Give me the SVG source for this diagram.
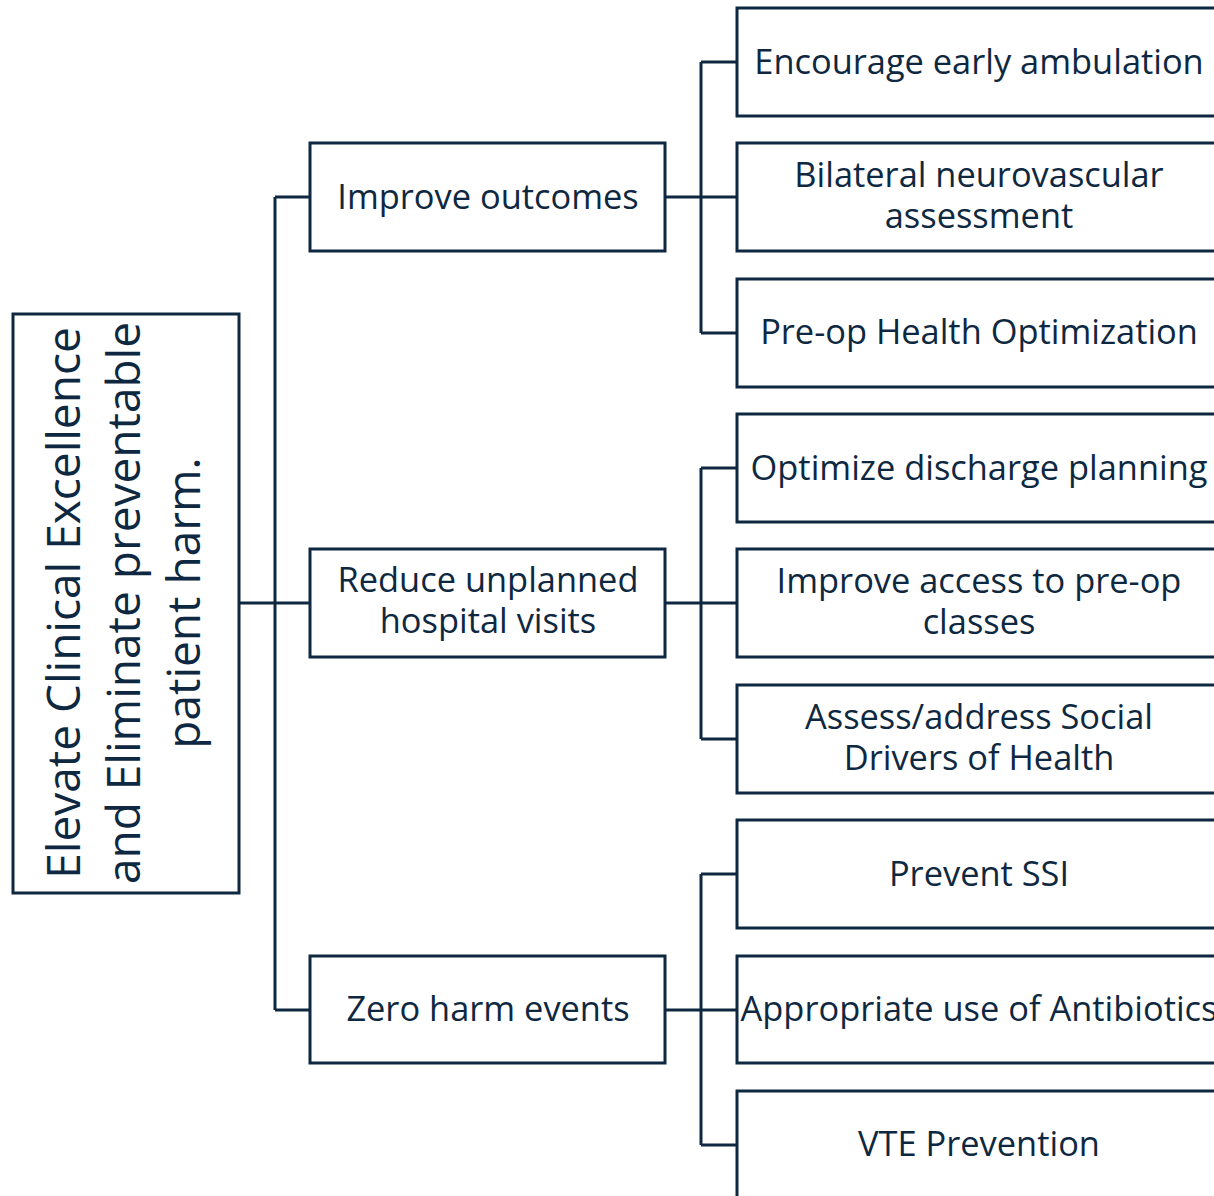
<svg xmlns="http://www.w3.org/2000/svg" width="1214" height="1196" viewBox="0 0 1214 1196">
<style>
.box{fill:#fff;stroke:#0e2841;stroke-width:3}
.t{font-family:"Open Sans","Noto Sans",sans-serif;fill:#0e2841;text-anchor:middle;font-size:34.4px}
.big{font-size:46px}
.c{fill:none;stroke:#0e2841;stroke-width:3}
</style>
<rect width="1214" height="1196" fill="#fff"/>
<g id="connectors" class="c">
<path d="M239,603H275M275,197V1010M275,197H310M275,603H310M275,1010H310"/>
<path d="M665,197H737M701,62V333M701,62H737M701,333H737"/>
<path d="M665,603H737M701,468V739M701,468H737M701,739H737"/>
<path d="M665,1010H737M701,874V1145M701,874H737M701,1145H737"/>
</g>
<g id="root">
<rect class="box" x="13" y="314" width="226" height="579"/>
<text class="t big" transform="translate(126,603) rotate(-90)"><tspan x="0" y="-46">Elevate Clinical Excellence</tspan><tspan x="0" y="14">and Eliminate preventable</tspan><tspan x="0" y="74">patient harm.</tspan></text>
</g>
<g id="improve-outcomes">
<rect class="box" x="310" y="143" width="355" height="108"/>
<text class="t" x="488" y="209">Improve outcomes</text>
</g>
<g id="reduce-visits">
<rect class="box" x="310" y="549" width="355" height="108"/>
<text class="t" x="488" y="592">Reduce unplanned</text>
<text class="t" x="488" y="633">hospital visits</text>
</g>
<g id="zero-harm">
<rect class="box" x="310" y="956" width="355" height="107"/>
<text class="t" x="488" y="1021">Zero harm events</text>
</g>
<g id="ambulation">
<rect class="box" x="737" y="8" width="490" height="108"/>
<text class="t" x="979" y="74">Encourage early ambulation</text>
</g>
<g id="neurovascular">
<rect class="box" x="737" y="143" width="490" height="108"/>
<text class="t" x="979" y="187">Bilateral neurovascular</text>
<text class="t" x="979" y="228">assessment</text>
</g>
<g id="preop-health">
<rect class="box" x="737" y="279" width="490" height="108"/>
<text class="t" x="979" y="344">Pre-op Health Optimization</text>
</g>
<g id="discharge">
<rect class="box" x="737" y="414" width="490" height="108"/>
<text class="t" x="979" y="480">Optimize discharge planning</text>
</g>
<g id="preop-classes">
<rect class="box" x="737" y="549" width="490" height="108"/>
<text class="t" x="979" y="593">Improve access to pre-op</text>
<text class="t" x="979" y="634">classes</text>
</g>
<g id="social-drivers">
<rect class="box" x="737" y="685" width="490" height="108"/>
<text class="t" x="979" y="729">Assess/address Social</text>
<text class="t" x="979" y="770">Drivers of Health</text>
</g>
<g id="ssi">
<rect class="box" x="737" y="820" width="490" height="108"/>
<text class="t" x="979" y="886">Prevent SSI</text>
</g>
<g id="antibiotics">
<rect class="box" x="737" y="956" width="490" height="107"/>
<text class="t" x="979" y="1021">Appropriate use of Antibiotics</text>
</g>
<g id="vte">
<rect class="box" x="737" y="1091" width="490" height="108"/>
<text class="t" x="979" y="1156">VTE Prevention</text>
</g>
</svg>
